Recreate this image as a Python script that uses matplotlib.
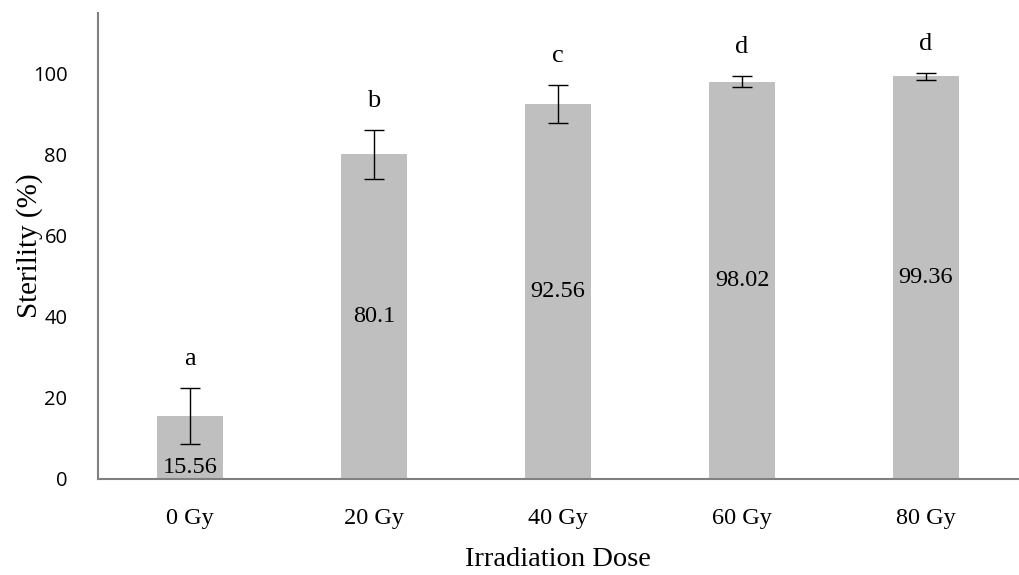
"""
Stérilité (%) selon la dose d'irradiation - barres avec erreurs et lettres de groupes.
"""

import matplotlib
matplotlib.use("Agg")
import matplotlib.pyplot as plt

# Données
doses = ["0 Gy", "20 Gy", "40 Gy", "60 Gy", "80 Gy"]
sterility = [15.56, 80.1, 92.56, 98.02, 99.36]
errors = [6.9, 6.0, 4.7, 1.4, 0.85]
groups = ["a", "b", "c", "d", "d"]

SERIF = ["Liberation Serif", "DejaVu Serif"]
SANS = ["Open Sans", "DejaVu Sans"]
BAR_COLOR = "#bfbfbf"
AXIS_COLOR = "#808080"

fig = plt.figure(figsize=(10.19, 5.75), dpi=100)
ax = fig.add_axes([98 / 1019, 1 - 479 / 575, 920 / 1019, 466 / 575])

x = list(range(len(doses)))
ax.bar(x, sterility, width=0.36, color=BAR_COLOR, zorder=1)
ax.errorbar(x, sterility, yerr=errors, fmt="none", ecolor="black",
            elinewidth=1.0, capsize=7.5, capthick=1.0, zorder=2)

# lettres de significativité au-dessus des barres d'erreur
for xi, v, e, g in zip(x, sterility, errors, groups):
    ax.annotate(g, (xi, v + e), xytext=(0, 13), textcoords="offset points",
                ha="center", va="bottom", fontsize=19, family=SERIF)

# valeurs dans les barres (la première est posée en bas)
for i, (xi, v) in enumerate(zip(x, sterility)):
    if i == 0:
        ax.text(xi, 0.2, f"{v:g}", ha="center", va="bottom",
                fontsize=17.5, family=SERIF)
    else:
        ax.text(xi, v / 2, f"{v:g}", ha="center", va="center",
                fontsize=17.5, family=SERIF)

ax.set_xlim(-0.5, len(doses) - 0.5)
ax.set_ylim(0, 115)
ax.set_yticks([0, 20, 40, 60, 80, 100])
ax.set_xticks(x)
ax.set_xticklabels(doses, fontsize=17.5, family=SERIF)
for lab in ax.get_yticklabels():
    lab.set_fontsize(14.5)
    lab.set_family(SANS)

ax.tick_params(axis="both", length=0)
ax.tick_params(axis="x", pad=21)
ax.tick_params(axis="y", pad=22)

for side in ["top", "right"]:
    ax.spines[side].set_visible(False)
for side in ["left", "bottom"]:
    ax.spines[side].set_color(AXIS_COLOR)
    ax.spines[side].set_linewidth(1.5)

ax.set_xlabel("Irradiation Dose", fontsize=20.5, family=SERIF, va="center")
ax.xaxis.set_label_coords(0.5, (479 - 559) / 466)
ax.set_ylabel("Sterility (%)", fontsize=21, family=SERIF, va="center")
ax.yaxis.set_label_coords((30 - 98) / 920, (479 - 246) / 466)

fig.savefig("out.png", dpi=100)
plt.close(fig)
